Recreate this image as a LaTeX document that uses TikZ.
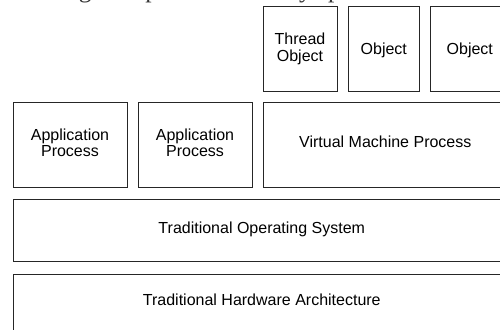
\documentclass[tikz,border=0pt]{standalone}
\usepackage{fontspec}
\setmainfont{Liberation Sans}
\newfontfamily\serifcap{Liberation Serif}
\begin{document}
\begin{tikzpicture}[x=1pt,y=-1pt,
  box/.style={draw=black!85, line width=0.8pt, rectangle, inner sep=0pt, anchor=north west},
  lbl/.style={inner sep=0pt, anchor=base, font=\fontsize{16}{18}\selectfont, text=black},
  captxt/.style={inner sep=0pt, anchor=base west, font=\serifcap\fontsize{25.5}{30}\selectfont, text=black!80}]
\useasboundingbox (0,0) rectangle (500,329);
\clip (0,0) rectangle (500,329);
% cropped caption line at the top
\node[captxt] (cap) at (12,-2.5) {running in separated memory spaces.};
% top row
\node[box, minimum width=73.4pt, minimum height=84.7pt] (thr) at (263.3,6) {};
\node[box, minimum width=71pt, minimum height=84.7pt] (ob2) at (348.3,6) {};
\node[box, minimum width=79.5pt, minimum height=84.7pt] (ob3) at (430,6) {};
% middle row
\node[box, minimum width=113.4pt, minimum height=84.4pt] (ap1) at (13.3,102.3) {};
\node[box, minimum width=113.4pt, minimum height=84.4pt] (ap2) at (138.3,102.3) {};
\node[box, minimum width=246.2pt, minimum height=84.4pt] (vm) at (263.3,102.3) {};
% OS and hardware
\node[box, minimum width=496.7pt, minimum height=62pt] (os) at (13.3,199) {};
\node[box, minimum width=496.7pt, minimum height=70pt] (hw) at (13.3,274) {};
% labels
\node[lbl] (thrA) at (300,44.3) {Thread};
\node[lbl] (thrB) at (300,61) {Object};
\node[lbl] (ob2t) at (383.8,54.7) {Object};
\node[lbl] (ob3t) at (469.8,54.7) {Object};
\node[lbl] (ap1A) at (70,140) {Application};
\node[lbl] (ap1B) at (70,156.7) {Process};
\node[lbl] (ap2A) at (195,140) {Application};
\node[lbl] (ap2B) at (195,156.7) {Process};
\node[lbl] (vmt) at (385.3,147.3) {Virtual Machine Process};
\node[lbl] (ost) at (261.8,233.3) {Traditional Operating System};
\node[lbl] (hwt) at (261.8,305.6) {Traditional Hardware Architecture};
\end{tikzpicture}
\end{document}
